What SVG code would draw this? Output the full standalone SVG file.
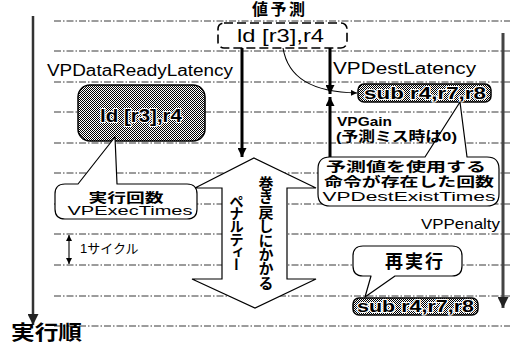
<svg xmlns="http://www.w3.org/2000/svg" width="512" height="345" viewBox="0 0 512 345">
<defs>
<pattern id="dith" width="2" height="2" patternUnits="userSpaceOnUse">
<rect width="2" height="2" fill="#fff"/>
<rect x="0" y="0" width="1" height="1" fill="#000"/>
<rect x="1" y="1" width="1" height="1" fill="#000"/>
</pattern>
<marker id="ah" viewBox="0 0 10 10" refX="10" refY="5" markerWidth="9" markerHeight="9" markerUnits="userSpaceOnUse" orient="auto">
<path d="M0,0 L10,5 L0,10 Z" fill="#000"/>
</marker>
<marker id="ahs" viewBox="0 0 10 10" refX="10" refY="5" markerWidth="6" markerHeight="6" markerUnits="userSpaceOnUse" orient="auto-start-reverse">
<path d="M0,0 L10,5 L0,10 Z" fill="#000"/>
</marker>
<marker id="ahb" viewBox="0 0 10 10" refX="10" refY="5" markerWidth="11" markerHeight="11" markerUnits="userSpaceOnUse" orient="auto">
<path d="M0,0 L10,5 L0,10 Z" fill="#222"/>
</marker>
</defs>
<style>
.grid line{stroke:#222;stroke-width:0.9;stroke-dasharray:7 2 1.5 2}
.t{font-family:"Liberation Sans","Noto Sans CJK JP",sans-serif;fill:#000}
.b{font-weight:bold}
.gbox{fill:url(#dith);stroke:#000;stroke-width:1.5}
.gt{font-family:"Liberation Sans","Noto Sans CJK JP",sans-serif;font-weight:bold;fill:#000;stroke:#fff;stroke-width:2;paint-order:stroke;stroke-linejoin:round}
.call{fill:#fff;stroke:#000;stroke-width:1.2;stroke-linejoin:round}
.thick{stroke:#000;stroke-width:3;fill:none}
.thin{stroke:#000;stroke-width:1.1;fill:none}
</style>
<rect width="512" height="345" fill="#fff"/>

<g id="grid" class="grid">
<line x1="54" y1="21" x2="510" y2="21"/>
<line x1="54" y1="51" x2="510" y2="51"/>
<line x1="54" y1="82" x2="510" y2="82"/>
<line x1="54" y1="112" x2="510" y2="112"/>
<line x1="54" y1="143" x2="510" y2="143"/>
<line x1="54" y1="173" x2="510" y2="173"/>
<line x1="54" y1="204" x2="510" y2="204"/>
<line x1="54" y1="234" x2="510" y2="234"/>
<line x1="54" y1="265" x2="510" y2="265"/>
<line x1="54" y1="296" x2="510" y2="296"/>
<line x1="54" y1="326" x2="510" y2="326"/>
</g>

<g id="axes">
<line x1="33" y1="16" x2="33" y2="325" stroke="#333" stroke-width="2.5" marker-end="url(#ahb)"/>
<text class="t b" x="11" y="340" font-size="20" textLength="71" lengthAdjust="spacingAndGlyphs">実行順</text>
<line x1="503" y1="33" x2="503" y2="308" stroke="#444" stroke-width="3" marker-end="url(#ahb)"/>
</g>

<g id="connectors">
<line class="thick" x1="242" y1="48" x2="242" y2="157" marker-end="url(#ah)"/>
<line class="thick" x1="330" y1="48" x2="330" y2="94" marker-end="url(#ah)"/>
<line class="thick" x1="330" y1="157" x2="330" y2="97" marker-end="url(#ah)"/>
<path class="thin" d="M283,48 C288,78 312,92 357,93" marker-end="url(#ahs)"/>
<line class="thin" x1="69" y1="235" x2="69" y2="264" marker-start="url(#ahs)" marker-end="url(#ahs)"/>
</g>

<g id="predict">
<rect x="218" y="23" width="129" height="25" rx="6" fill="#fff" stroke="#000" stroke-width="1.6" stroke-dasharray="9 4"/>
<text class="t" x="237" y="42" font-size="19" textLength="87" lengthAdjust="spacingAndGlyphs">ld [r3],r4</text>
</g>

<g id="ld-box">
<rect class="gbox" x="78" y="85" width="127" height="56" rx="12"/>
<text class="gt" x="100" y="122" font-size="18" textLength="82" lengthAdjust="spacingAndGlyphs">ld [r3],r4</text>
</g>

<g id="sub-box1">
<rect class="gbox" x="358" y="84" width="133" height="18" rx="6"/>
<text class="gt" x="364" y="99" font-size="16" textLength="122" lengthAdjust="spacingAndGlyphs">sub r4,r7,r8</text>
</g>

<g id="sub-box2">
<rect class="gbox" x="353" y="298" width="125" height="17" rx="6"/>
<text class="gt" x="357" y="312" font-size="16" textLength="117" lengthAdjust="spacingAndGlyphs">sub r4,r7,r8</text>
</g>

<g id="penalty-arrow">
<path d="M254,158 L316,188 L287,188 L287,279 L316,279 L255,308 L192,279 L222,279 L222,188 L195,188 Z" fill="#fff" stroke="#000" stroke-width="1.2" stroke-linejoin="miter"/>
<text class="t b" x="265" y="176" font-size="15" style="writing-mode:vertical-rl" letter-spacing="-0.8">巻き戻しにかかる</text>
<text class="t b" x="235" y="194" font-size="14.5" style="writing-mode:vertical-rl" letter-spacing="-1.8">ペナルティー</text>
</g>

<g id="exec-times">
<path class="call" d="M65,184 L78,184 L115,137 L117,184 L187,184 Q197,184 197,194 L197,209 Q197,219 187,219 L65,219 Q55,219 55,209 L55,194 Q55,184 65,184 Z"/>
<text class="t b" x="126" y="201.5" font-size="13" text-anchor="middle" textLength="75" lengthAdjust="spacingAndGlyphs">実行回数</text>
<text class="t" x="130" y="215" font-size="13.5" text-anchor="middle" textLength="125" lengthAdjust="spacingAndGlyphs">VPExecTimes</text>
</g>

<g id="dest-exist">
<path class="call" d="M330,157 L425,157 L460,102 L467,157 L487,157 Q499,157 499,169 L499,194 Q499,206 487,206 L330,206 Q318,206 318,194 L318,169 Q318,157 330,157 Z"/>
<text class="t b" x="406" y="170.5" font-size="13" text-anchor="middle" textLength="160" lengthAdjust="spacingAndGlyphs">予測値を使用する</text>
<text class="t b" x="409" y="185.5" font-size="13" text-anchor="middle" textLength="170" lengthAdjust="spacingAndGlyphs">命令が存在した回数</text>
<text class="t" x="409" y="201" font-size="13.5" text-anchor="middle" textLength="173" lengthAdjust="spacingAndGlyphs">VPDestExistTimes</text>
</g>

<g id="re-exec">
<path class="call" d="M363,246 L452,246 Q462,246 462,256 L462,266 Q462,276 452,276 L395,276 L365,297 L371,276 L363,276 Q353,276 353,266 L353,256 Q353,246 363,246 Z"/>
<text class="t b" x="415" y="268" font-size="18" text-anchor="middle" letter-spacing="2">再実行</text>
</g>

<g id="labels">
<text class="t b" x="252" y="15" font-size="16" letter-spacing="2.5">値予測</text>
<text class="t" x="47" y="76" font-size="16" textLength="186" lengthAdjust="spacingAndGlyphs">VPDataReadyLatency</text>
<text class="t" x="333" y="74" font-size="16" textLength="143" lengthAdjust="spacingAndGlyphs">VPDestLatency</text>
<text class="t b" x="337" y="126" font-size="13.5" textLength="55" lengthAdjust="spacingAndGlyphs">VPGain</text>
<text class="t b" x="336" y="141" font-size="13.5" textLength="121" lengthAdjust="spacingAndGlyphs">(予測ミス時は0)</text>
<text class="t" x="421" y="229" font-size="15" textLength="79" lengthAdjust="spacingAndGlyphs">VPPenalty</text>
<text class="t" x="80" y="253" font-size="13">1サイクル</text>
</g>
</svg>
